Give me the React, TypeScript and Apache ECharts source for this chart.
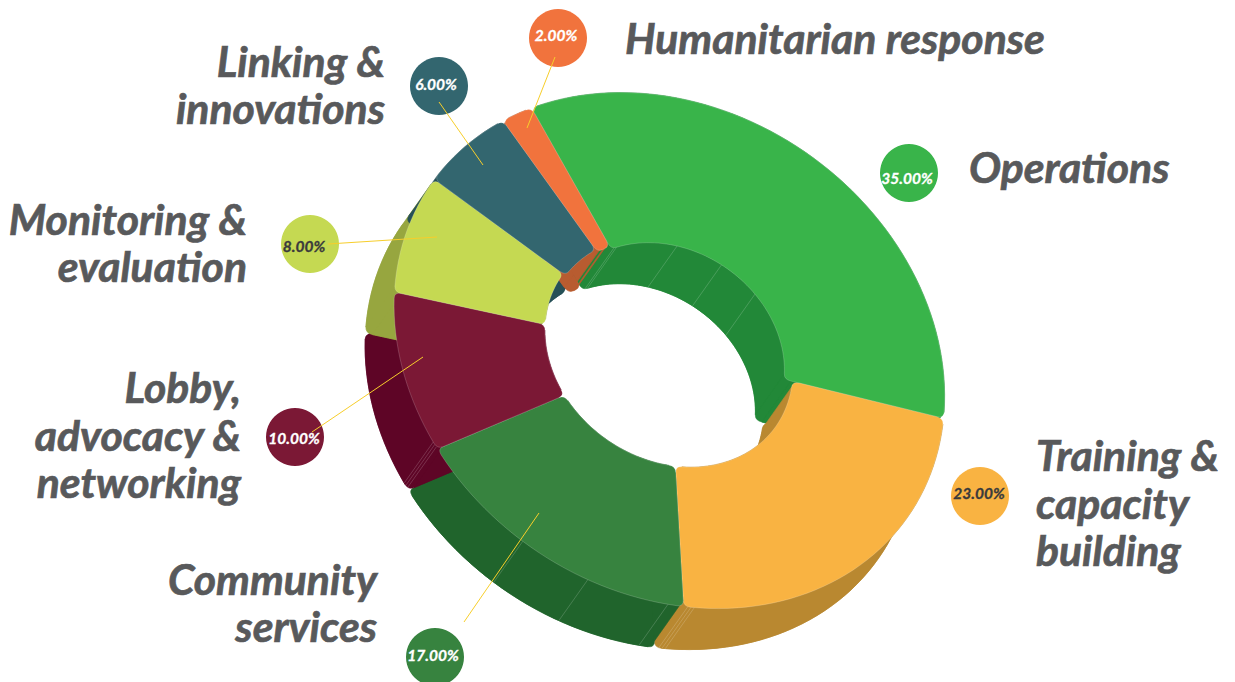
import React, { useEffect, useRef } from "react";
import * as echarts from "echarts";

// Programme budget shares, drawn clockwise starting with Operations.
const names = [
  "Operations",
  "Training &\ncapacity\nbuilding",
  "Community\nservices",
  "Lobby,\nadvocacy &\nnetworking",
  "Monitoring &\nevaluation",
  "Linking &\ninnovations",
  "Humanitarian response",
];
const shares = [35, 23, 17, 10, 8, 6, 2];
const topColors = ["#39B44A", "#F9B342", "#37833F", "#7B1835", "#C5D952", "#33666F", "#F1733D"];
const wallColors = ["#228838", "#B98830", "#20642C", "#5E0526", "#97A63F", "#265057", "#B85C30"];
const percentColors = ["#FFFFFF", "#3A3A3C", "#FFFFFF", "#FFFFFF", "#3A3A3C", "#FFFFFF", "#FFFFFF"];

// Layout of the bubbles, captions and leader lines.
const bubbleCenters = [[909, 173], [980, 496], [435, 657], [295, 437], [310, 244], [439, 86], [558, 38]];
const percentCenters = [[907, 178], [979, 493], [433, 655], [294, 438], [304, 246], [436, 84], [556, 35]];
const captionAnchors: [number, number, string][] = [
  [969, 166, "left"], [1036, 502, "left"], [377, 602, "right"], [241, 434, "right"],
  [247, 242, "right"], [385, 84, "right"], [625, 37, "left"],
];
const leaders = [
  null, null,
  [464, 622, 539, 513],
  [312, 432, 423, 357],
  [328, 244, 437, 237],
  [439, 102, 483, 165],
  [555, 57, 527, 128],
];

// Ring proportions: rim at 1, hole edge per slice, extrusion vector of the walls.
const OUTER = 1;
const innerRadii = [0.42, 0.45, 0.45, 0.45, 0.45, 0.44, 0.43];
const DEPTH = [-29, 41];
const BODY_FONT = "Lato, 'Open Sans', sans-serif";

// Screen position of the rim at each slice boundary, used to fit the ring's projection.
const rimAnchors = [[534, 106], [943, 418], [684, 608], [438, 446], [394, 294], [433, 180], [502, 122]];

// Tessellation seams on the walls: [ring radius, ring angle].
const seams: [number, number][] = [
  [0.42, 1.5], [0.42, 3], [0.42, 34], [0.42, 57], [0.42, 78],
  [1, 126], [1, 128], [1, 204.5], [1, 205.2], [1, 205.9],
  [1, 210], [1, 227], [1, 242],
  [1, 267.8], [1, 268.4], [1, 269],
];

// Least-squares plane-to-screen projection of the ring from rim correspondences.
function fitProjection(pairs: number[][]) {
  const rows: number[][] = [];
  for (const [u, v, x, y] of pairs) {
    rows.push([u, v, 1, 0, 0, 0, -x * u, -x * v, x]);
    rows.push([0, 0, 0, u, v, 1, -y * u, -y * v, y]);
  }
  const m: number[][] = [];
  for (let a = 0; a < 8; a++) {
    const row: number[] = [];
    for (let b = 0; b < 9; b++) row.push(rows.reduce((s, r) => s + r[a] * r[b], 0));
    m.push(row);
  }
  for (let i = 0; i < 8; i++) {
    let p = i;
    for (let r = i + 1; r < 8; r++) if (Math.abs(m[r][i]) > Math.abs(m[p][i])) p = r;
    [m[i], m[p]] = [m[p], m[i]];
    for (let r = 0; r < 8; r++) {
      if (r === i) continue;
      const f = m[r][i] / m[i][i];
      for (let c = i; c < 9; c++) m[r][c] -= f * m[i][c];
    }
  }
  return m.map((row, i) => row[8] / row[i]);
}

const total = shares.reduce((a, b) => a + b, 0);
const edges = shares.reduce<number[]>((acc, s) => [...acc, acc[acc.length - 1] + (s / total) * 360], [0]);
const unit = (deg: number) => [Math.sin((deg * Math.PI) / 180), -Math.cos((deg * Math.PI) / 180)];

const H = fitProjection(rimAnchors.map((p, i) => [...unit(edges[i]), p[0], p[1]]));

function project(r: number, deg: number, shift = [0, 0]) {
  const [a, b] = unit(deg);
  const u = a * r;
  const v = b * r;
  const w = H[6] * u + H[7] * v + 1;
  return [(H[0] * u + H[1] * v + H[2]) / w + shift[0], (H[3] * u + H[4] * v + H[5]) / w + shift[1]];
}

const fmt = (p: number[]) => `${p[0].toFixed(2)} ${p[1].toFixed(2)}`;
const dOut = 1.4;
const dIn = 3;
const dr = 0.025;

function arcPoints(r: number, from: number, to: number, shift = [0, 0]) {
  const n = Math.max(2, Math.ceil(Math.abs(to - from) / 2));
  const out: number[][] = [];
  for (let i = 0; i <= n; i++) out.push(project(r, from + ((to - from) * i) / n, shift));
  return out;
}

// Face of a slice, its four corners softened.
function facePath(a: number, b: number, rIn: number, shift = [0, 0]) {
  const outer = arcPoints(OUTER, a + dOut, b - dOut, shift);
  const inner = arcPoints(rIn, b - dIn, a + dIn, shift);
  let d = `M${fmt(outer[0])}`;
  outer.slice(1).forEach((p) => (d += `L${fmt(p)}`));
  d += `Q${fmt(project(OUTER, b, shift))} ${fmt(project(OUTER - dr, b, shift))}`;
  d += `L${fmt(project(rIn + dr, b, shift))}`;
  d += `Q${fmt(project(rIn, b, shift))} ${fmt(inner[0])}`;
  inner.slice(1).forEach((p) => (d += `L${fmt(p)}`));
  d += `Q${fmt(project(rIn, a, shift))} ${fmt(project(rIn + dr, a, shift))}`;
  d += `L${fmt(project(OUTER - dr, a, shift))}`;
  d += `Q${fmt(project(OUTER, a, shift))} ${fmt(outer[0])}Z`;
  return d;
}

const polyPath = (pts: number[][]) => `M${pts.map(fmt).join("L")}Z`;

function wallPaths(a: number, b: number, rIn: number) {
  const strip = (r: number, inset: number) => {
    const top = arcPoints(r, a + inset, b - inset);
    const low = arcPoints(r, a + inset, b - inset, DEPTH);
    return polyPath([...top, ...low.reverse()]);
  };
  const side = (deg: number) =>
    polyPath([
      project(OUTER - dr, deg),
      project(rIn + dr, deg),
      project(rIn + dr, deg, DEPTH),
      project(OUTER - dr, deg, DEPTH),
    ]);
  return [facePath(a, b, rIn, DEPTH), strip(OUTER, dOut), strip(rIn, dIn), side(a), side(b)];
}

export default function App() {
  const ref = useRef<HTMLDivElement>(null);

  useEffect(() => {
    const chart = echarts.init(ref.current!, undefined, { renderer: "svg" });

    const wallSeries = {
      type: "custom",
      coordinateSystem: "none",
      z: 1,
      silent: true,
      data: shares,
      renderItem: (params: any) => {
        const i = params.dataIndex;
        return {
          type: "group",
          children: wallPaths(edges[i], edges[i + 1], innerRadii[i]).map((d) => ({
            type: "path",
            shape: { pathData: d },
            style: { fill: wallColors[i], stroke: wallColors[i], lineWidth: 0.6 },
          })),
        };
      },
    };

    const seamSeries = {
      type: "custom",
      coordinateSystem: "none",
      z: 2,
      silent: true,
      data: seams.map((s) => s[1]),
      renderItem: (params: any) => {
        const [r, deg] = seams[params.dataIndex];
        const p = project(r, deg);
        const q = project(r, deg, DEPTH);
        return {
          type: "line",
          shape: { x1: p[0], y1: p[1], x2: q[0], y2: q[1] },
          style: { stroke: "rgba(255,255,255,0.22)", lineWidth: 0.8 },
        };
      },
    };

    const topSeries = {
      type: "custom",
      coordinateSystem: "none",
      z: 3,
      silent: true,
      data: shares,
      renderItem: (params: any) => {
        const i = params.dataIndex;
        return {
          type: "path",
          shape: { pathData: facePath(edges[i], edges[i + 1], innerRadii[i]) },
          style: { fill: topColors[i], stroke: "rgba(255,255,255,0.3)", lineWidth: 0.6 },
        };
      },
    };

    const graphics: any[] = [];
    shares.forEach((share, i) => {
      graphics.push({
        type: "circle",
        z: 10,
        silent: true,
        shape: { cx: bubbleCenters[i][0], cy: bubbleCenters[i][1], r: 29 },
        style: { fill: topColors[i] },
      });
      const lead = leaders[i];
      if (lead) {
        graphics.push({
          type: "line",
          z: 11,
          silent: true,
          shape: { x1: lead[0], y1: lead[1], x2: lead[2], y2: lead[3] },
          style: { stroke: "#F7CE2B", lineWidth: 1 },
        });
      }
      graphics.push({
        type: "text",
        z: 12,
        silent: true,
        x: percentCenters[i][0],
        y: percentCenters[i][1],
        style: {
          text: `${share.toFixed(2)}%`,
          fill: percentColors[i],
          stroke: percentColors[i],
          lineWidth: 0.3,
          font: `italic 700 15.5px ${BODY_FONT}`,
          align: "center",
          verticalAlign: "middle",
        },
      });
      const [x, y, align] = captionAnchors[i];
      graphics.push({
        type: "text",
        z: 12,
        silent: true,
        x,
        y,
        style: {
          text: names[i],
          fill: "#58595B",
          stroke: "#58595B",
          lineWidth: 0.7,
          font: `italic 700 42.7px ${BODY_FONT}`,
          lineHeight: 47.5,
          align,
          verticalAlign: "middle",
        },
      });
    });

    chart.setOption({
      animation: false,
      backgroundColor: "#FFFFFF",
      series: [wallSeries, seamSeries, topSeries],
      graphic: { elements: graphics },
    });
    return () => chart.dispose();
  }, []);

  return <div ref={ref} style={{ position: "absolute", left: 0, top: 0, width: 1235, height: 682 }} />;
}
